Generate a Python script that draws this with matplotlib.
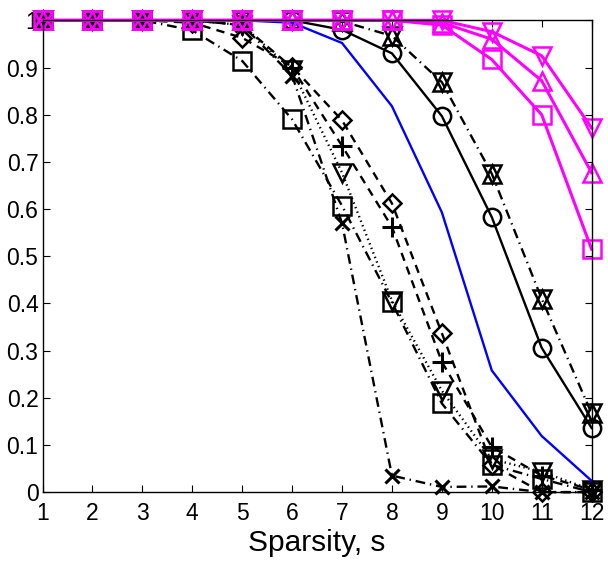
import matplotlib
matplotlib.use('Agg')
import matplotlib.pyplot as plt

plt.rcParams['font.family'] = ['Liberation Sans', 'DejaVu Sans']
plt.rcParams['lines.scale_dashes'] = False

s = list(range(1, 13))

# black curves
circle = [1, 1, 1, 1, 1, 1, 0.98, 0.93, 0.797, 0.583, 0.306, 0.136]
hexagram = [1, 1, 1, 1, 1, 1, 0.998, 0.967, 0.869, 0.675, 0.41, 0.167]
diamond = [1, 1, 1, 0.995, 0.963, 0.902, 0.788, 0.612, 0.337, 0.058, 0.0, 0.0]
plus = [1, 1, 1, 1, 0.99, 0.9, 0.734, 0.562, 0.276, 0.096, 0.035, 0.005]
tri_down = [1, 1, 1, 1, 0.99, 0.895, 0.677, 0.406, 0.215, 0.07, 0.043, 0.005]
square = [1, 1, 1, 0.979, 0.914, 0.79, 0.607, 0.402, 0.188, 0.058, 0.028, 0.0]
cross = [1, 1, 1, 1, 0.99, 0.883, 0.57, 0.035, 0.011, 0.012, 0.0, 0.0]

# blue curve
blue = [1, 1, 1, 1, 1, 0.995, 0.952, 0.818, 0.593, 0.258, 0.119, 0.024]

# magenta curves
mag_square = [1, 1, 1, 1, 1, 1, 1, 1, 0.99, 0.917, 0.80, 0.515]
mag_up = [1, 1, 1, 1, 1, 1, 1, 1, 0.995, 0.96, 0.872, 0.677]
mag_down = [1, 1, 1, 1, 1, 1, 1, 1, 1, 0.976, 0.925, 0.772]

# matlab-like dash patterns (points)
dashed = (0, (6, 4.5))
dashdot = (0, (7, 3.5, 1, 3.5))
dotted = (0, (1, 2.5))

fig = plt.figure(figsize=(6.08, 5.65), dpi=100)
ax = fig.add_axes([0.070, 0.129, 0.903, 0.835])

ms = 12.5
mew = 1.8
black = dict(color='k', lw=1.7, ms=ms, mew=mew, mfc='none', clip_on=False)

ax.plot(s, circle, ls='-', marker='o', **black)
ax.plot(s, hexagram, ls=dashdot, marker='^', **black)
ax.plot(s, hexagram, ls='none', marker='v', color='k', ms=ms, mew=mew, mfc='none', clip_on=False)
ax.plot(s, diamond, ls=dashed, marker='D', color='k', lw=1.7, ms=ms * 0.75, mew=mew, mfc='none', clip_on=False)
ax.plot(s, plus, ls=dashed, marker='+', color='k', lw=1.7, ms=ms * 1.1, mew=2.2, clip_on=False)
ax.plot(s, tri_down, ls=dotted, marker='v', **black)
ax.plot(s, square, ls=dashdot, marker='s', **black)
ax.plot(s, cross, ls=dashdot, marker='x', color='k', lw=1.7, ms=ms * 0.75, mew=2.2, clip_on=False)

ax.plot(s, blue, '-', color='#0000ff', lw=1.7, clip_on=False)

mag = dict(color='#ff00ff', lw=2.2, ms=ms, mew=mew, mfc='none', clip_on=False)
ax.plot(s, mag_square, '-', marker='s', **mag)
ax.plot(s, mag_up, '-', marker='^', **mag)
ax.plot(s, mag_down, '-', marker='v', **mag)

ax.set_xlim(1, 12)
ax.set_ylim(0, 1)
ax.set_xticks(s)
ax.set_yticks([i / 10 for i in range(11)])
ax.set_yticklabels(['0'] + ['0.%d' % i for i in range(1, 10)] + ['1'])
ax.tick_params(direction='in', top=True, right=True, labelsize=16.5, length=5)
ax.tick_params(axis='x', pad=7)
ax.tick_params(axis='y', pad=3)
for sp in ax.spines.values():
    sp.set_linewidth(1)
ax.set_xlabel('Sparsity, s', fontsize=21.5, labelpad=3)

fig.savefig('out.png', dpi=100)
